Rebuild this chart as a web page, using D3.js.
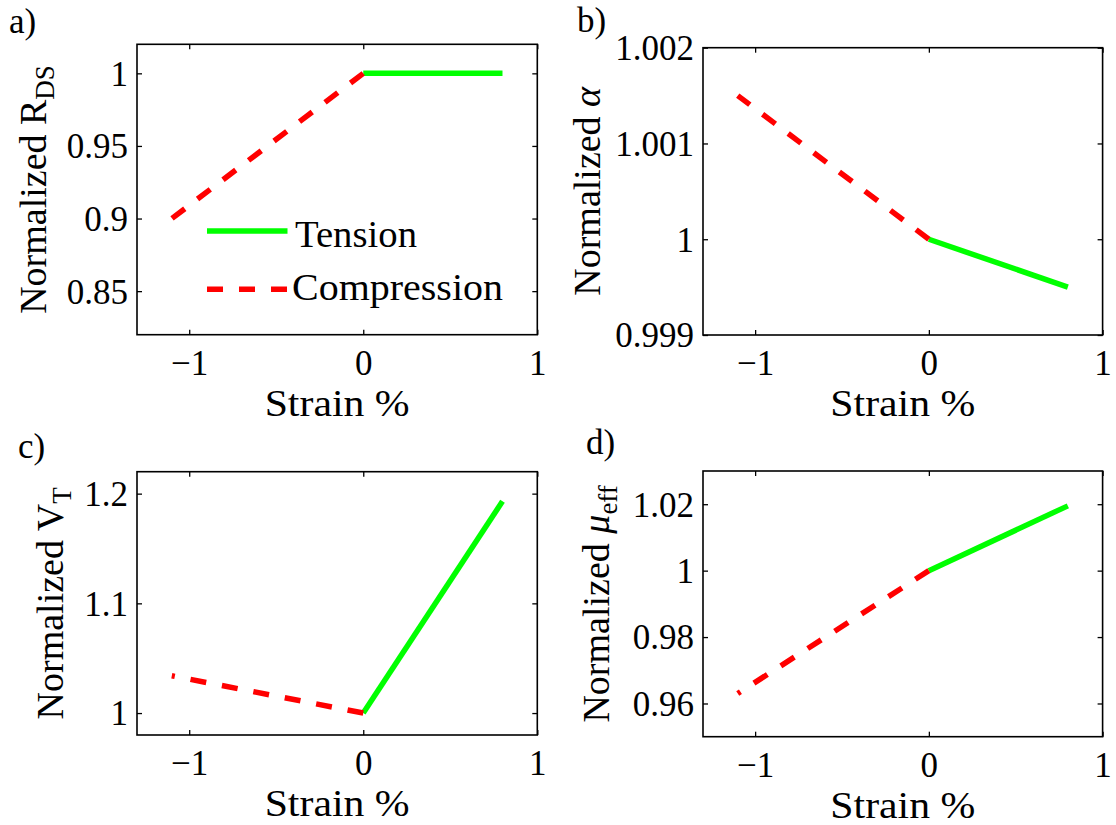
<!DOCTYPE html>
<html><head><meta charset="utf-8">
<script src="https://cdn.jsdelivr.net/npm/d3@7"></script>
<style>
body{margin:0;background:#fff}
#chart text{font-family:"Liberation Serif",serif !important}
</style>
</head><body>
<svg id="chart" width="1116" height="825"></svg>
<script>
// ---- data ----
const strainTicks = [-1, 0, 1];
const strainTickLabels = ["\u22121", "0", "1"];
const compressionStrain = [0, -1.1];
const tensionStrain = [0, 0.8];

const rdsCompression = [1, 0.9];
const rdsTension = [1, 1];
const rdsTicks = [0.85, 0.9, 0.95, 1];
const rdsTickLabels = ["0.85", "0.9", "0.95", "1"];

const alphaCompression = [1, 1.0015];
const alphaTension = [1, 0.9995];
const alphaTicks = [0.999, 1, 1.001, 1.002];
const alphaTickLabels = ["0.999", "1", "1.001", "1.002"];

const vtCompression = [1, 1.034];
const vtTension = [1, 1.193];
const vtTicks = [1, 1.1, 1.2];
const vtTickLabels = ["1", "1.1", "1.2"];

const muCompression = [1, 0.963];
const muTension = [1, 1.0195];
const muTicks = [0.96, 0.98, 1, 1.02];
const muTickLabels = ["0.96", "0.98", "1", "1.02"];

const legendLabels = ["Tension", "Compression"];
const seriesColors = {tension: "#00ff00", compression: "#ff0000"};

// ---- layout ----
const FONT = "Liberation Serif";
const svg = d3.select("#chart");
const panels = [
  {letter: "a)", lx: 9, ly: 33, comp: rdsCompression, tens: rdsTension, ticks: rdsTicks, tickLabels: rdsTickLabels,
   yDomain: [0.82, 1.02], box: {x0: 137, y0: 44.3, x1: 537.3, y1: 334.7}, ylabX: 46,
   ylab: [{t: "Normalized R"}, {t: "DS", sub: true}], legend: true},
  {letter: "b)", lx: 577, ly: 32, comp: alphaCompression, tens: alphaTension, ticks: alphaTicks, tickLabels: alphaTickLabels,
   yDomain: [0.999, 1.002], box: {x0: 703, y0: 47.7, x1: 1102.6, y1: 335}, ylabX: 599.5,
   ylab: [{t: "Normalized "}, {t: "\u03b1", it: true}]},
  {letter: "c)", lx: 18, ly: 458, comp: vtCompression, tens: vtTension, ticks: vtTicks, tickLabels: vtTickLabels,
   yDomain: [0.98, 1.22], box: {x0: 137, y0: 471.7, x1: 537.3, y1: 735}, ylabX: 63,
   ylab: [{t: "Normalized V"}, {t: "T", sub: true}]},
  {letter: "d)", lx: 586, ly: 454, comp: muCompression, tens: muTension, ticks: muTicks, tickLabels: muTickLabels,
   yDomain: [0.95, 1.03], box: {x0: 703, y0: 471, x1: 1102.6, y1: 736.7}, ylabX: 609,
   ylab: [{t: "Normalized "}, {t: "\u03bc", it: true}, {t: "eff", sub: true}]}
];

function txt(sel, size) {
  return sel.attr("font-family", FONT).attr("font-size", size)
    .style("font-family", FONT).style("font-size", size + "px");
}

const TICK = 5;
panels.forEach(p => {
  const b = p.box;
  const x = d3.scaleLinear().domain([-1.3, 1]).range([b.x0, b.x1]);
  const y = d3.scaleLinear().domain(p.yDomain).range([b.y1, b.y0]);
  const g = svg.append("g");

  const bottom = g.append("g").attr("transform", `translate(0,${b.y1})`)
    .call(d3.axisBottom(x).tickValues(strainTicks).tickFormat((d, i) => strainTickLabels[i])
      .tickSizeInner(-TICK).tickSizeOuter(0).tickPadding(0));
  bottom.attr("font-family", FONT).attr("font-size", 35);
  txt(bottom.selectAll("text"), 35).attr("y", 40).attr("dy", null);
  g.append("g").attr("transform", `translate(0,${b.y0})`)
    .call(d3.axisTop(x).tickValues(strainTicks).tickFormat("").tickSizeInner(-TICK).tickSizeOuter(0))
    .call(a => { a.select(".domain").remove(); a.selectAll("line").attr("stroke-width", 1.3); });
  const left = g.append("g").attr("transform", `translate(${b.x0},0)`)
    .call(d3.axisLeft(y).tickValues(p.ticks).tickFormat((d, i) => p.tickLabels[i])
      .tickSizeInner(-TICK).tickSizeOuter(0).tickPadding(9));
  left.attr("font-family", FONT).attr("font-size", 35);
  txt(left.selectAll("text"), 35).attr("dy", "0.34em");
  g.append("g").attr("transform", `translate(${b.x1},0)`)
    .call(d3.axisRight(y).tickValues(p.ticks).tickFormat("").tickSizeInner(-TICK).tickSizeOuter(0))
    .call(a => { a.select(".domain").remove(); a.selectAll("line").attr("stroke-width", 1.3); });
  [bottom, left].forEach(a => {
    a.select(".domain").remove();
    a.selectAll("line").attr("stroke", "#000").attr("stroke-width", 1.3);
  });
  g.append("rect").attr("x", b.x0).attr("y", b.y0).attr("width", b.x1 - b.x0).attr("height", b.y1 - b.y0)
    .attr("fill", "none").attr("stroke", "#000").attr("stroke-width", 1.6);

  const line = d3.line().x(d => x(d[0])).y(d => y(d[1]));
  g.append("path").datum(tensionStrain.map((s, i) => [s, p.tens[i]]))
    .attr("d", line).attr("fill", "none").attr("stroke", seriesColors.tension).attr("stroke-width", 5.5);
  g.append("path").datum(compressionStrain.map((s, i) => [s, p.comp[i]]))
    .attr("d", line).attr("fill", "none").attr("stroke", seriesColors.compression).attr("stroke-width", 5.5)
    .attr("stroke-dasharray", "16,16");

  txt(g.append("text"), 38).attr("x", (b.x0 + b.x1) / 2).attr("y", b.y1 + 81).attr("text-anchor", "middle")
    .attr("textLength", 145).attr("lengthAdjust", "spacingAndGlyphs").text("Strain %");

  const yl = txt(g.append("text"), 38)
    .attr("transform", `translate(${p.ylabX},${(b.y0 + b.y1) / 2}) rotate(-90)`).attr("text-anchor", "middle");
  let shifted = false;
  p.ylab.forEach(s => {
    const ts = yl.append("tspan").text(s.t);
    if (s.it) ts.attr("font-style", "italic");
    if (s.sub && !shifted) { ts.attr("dy", 8).attr("font-size", 27).style("font-size", "27px"); shifted = true; }
  });

  txt(svg.append("text"), 35).attr("x", p.lx).attr("y", p.ly).text(p.letter);

  if (p.legend) {
    const lg = g.append("g");
    const lx0 = 207, lx1 = 287.5;
    const rows = [
      {y: 231, color: seriesColors.tension, dash: null, label: legendLabels[0], tx: 295, ty: 246.7, tl: 122},
      {y: 289.3, color: seriesColors.compression, dash: "16,16", label: legendLabels[1], tx: 292, ty: 300, tl: 211}
    ];
    rows.forEach(r => {
      lg.append("line").attr("x1", lx0).attr("x2", lx1).attr("y1", r.y).attr("y2", r.y)
        .attr("stroke", r.color).attr("stroke-width", 5.5).attr("stroke-dasharray", r.dash);
      txt(lg.append("text"), 37).attr("x", r.tx).attr("y", r.ty)
        .attr("textLength", r.tl).attr("lengthAdjust", "spacingAndGlyphs").text(r.label);
    });
  }
});
</script>
</body></html>
